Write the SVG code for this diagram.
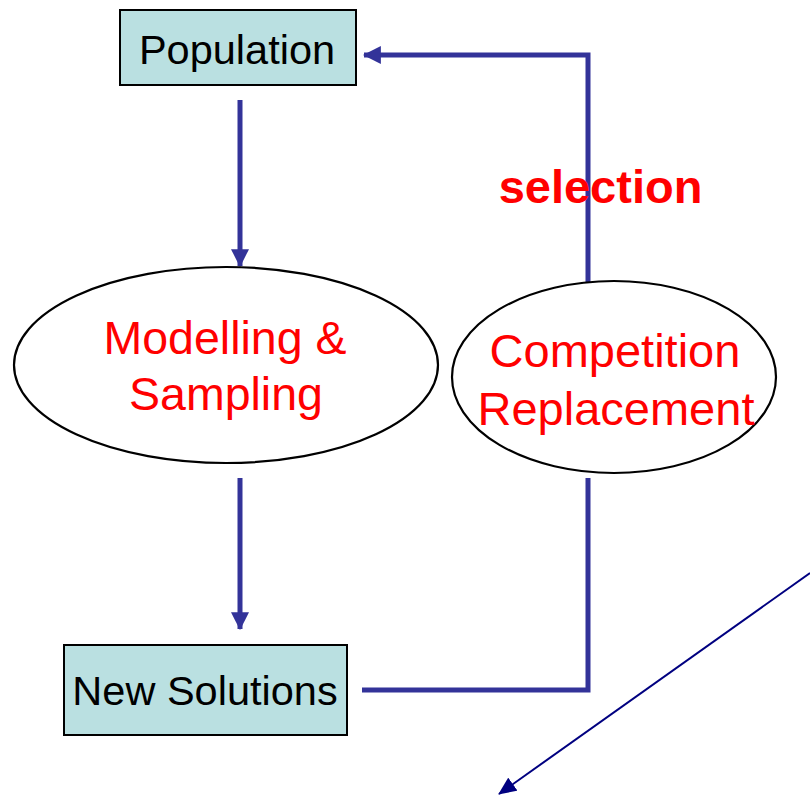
<svg xmlns="http://www.w3.org/2000/svg" width="810" height="797" viewBox="0 0 810 797">
  <style>
    .box { fill: #bae0e1; stroke: #000; stroke-width: 2; }
    .oval { fill: #fff; stroke: #000; stroke-width: 2.2; }
    .dark { font-family: "Liberation Sans", Arial, sans-serif; fill: #000; text-anchor: middle; }
    .red { font-family: "Liberation Sans", Arial, sans-serif; fill: #ff0000; text-anchor: middle; }
    .flow { fill: none; stroke: #333399; stroke-width: 5; stroke-linejoin: miter; }
    .thin { fill: none; stroke: #000080; stroke-width: 2; }
  </style>
  <defs>
    <marker id="headThick" markerUnits="userSpaceOnUse" markerWidth="18" markerHeight="18" viewBox="0 0 16 16" refX="15" refY="8" orient="auto">
      <path d="M0,0 L16,8 L0,16 Z" fill="#333399"/>
    </marker>
    <marker id="headThin" markerUnits="userSpaceOnUse" markerWidth="18" markerHeight="16" viewBox="0 0 18 16" refX="17" refY="8" orient="auto">
      <path d="M0,0 L18,8 L0,16 Z" fill="#000080"/>
    </marker>
  </defs>

  <rect width="810" height="797" fill="#fff"/>

  <g id="connectors">
    <line class="flow" x1="240" y1="100" x2="240" y2="266" marker-end="url(#headThick)"/>
    <line class="flow" x1="240" y1="478" x2="240" y2="629" marker-end="url(#headThick)"/>
    <polyline class="flow" points="362,690 588,690 588,478"/>
    <polyline class="flow" points="588,282 588,55 364,55" marker-end="url(#headThick)"/>
    <line class="thin" x1="810" y1="573" x2="499" y2="794" marker-end="url(#headThin)"/>
  </g>

  <g id="population">
    <rect class="box" x="120" y="10" width="236" height="75"/>
    <text class="dark" x="237" y="64" font-size="41.5">Population</text>
  </g>

  <g id="modelling">
    <ellipse class="oval" cx="226" cy="365" rx="212" ry="98"/>
    <text class="red" x="225" y="354" font-size="46.5">Modelling &amp;</text>
    <text class="red" x="226" y="410" font-size="46.5">Sampling</text>
  </g>

  <g id="new-solutions">
    <rect class="box" x="64" y="645" width="283" height="90"/>
    <text class="dark" x="205" y="705" font-size="41.5">New Solutions</text>
  </g>

  <g id="competition">
    <ellipse class="oval" cx="614" cy="377" rx="162" ry="96"/>
    <text class="red" x="615" y="367" font-size="47">Competition</text>
    <text class="red" x="616" y="425" font-size="47">Replacement</text>
  </g>

  <g id="selection-label">
    <text class="red" x="600.5" y="203" font-size="47" font-weight="bold">selection</text>
  </g>
</svg>
